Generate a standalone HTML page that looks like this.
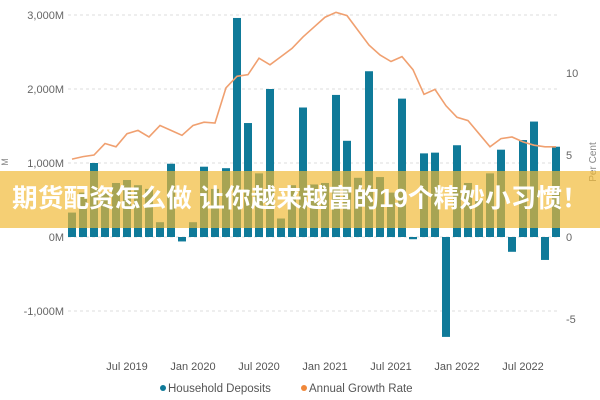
<!DOCTYPE html>
<html><head><meta charset="utf-8"><style>
body{margin:0;width:600px;height:400px;overflow:hidden;background:#fff;font-family:"Liberation Sans","Noto Sans CJK SC",sans-serif}
svg{position:absolute;left:0;top:0}
#banner{position:absolute;left:0;top:171px;width:600px;height:57px;background:rgba(240,184,50,0.68);color:#fff;font-weight:bold;font-size:25.5px;line-height:57px;text-align:center;letter-spacing:0.2px;white-space:nowrap;font-family:"Liberation Sans","Noto Sans CJK SC",sans-serif}
</style></head><body>
<svg id="chart" width="600" height="400"></svg>
<div id="banner">期货配资怎么做 让你越来越富的19个精妙小习惯！</div>
<script>
const months=["Feb 2019","Mar 2019","Apr 2019","May 2019","Jun 2019","Jul 2019","Aug 2019","Sep 2019","Oct 2019","Nov 2019","Dec 2019","Jan 2020","Feb 2020","Mar 2020","Apr 2020","May 2020","Jun 2020","Jul 2020","Aug 2020","Sep 2020","Oct 2020","Nov 2020","Dec 2020","Jan 2021","Feb 2021","Mar 2021","Apr 2021","May 2021","Jun 2021","Jul 2021","Aug 2021","Sep 2021","Oct 2021","Nov 2021","Dec 2021","Jan 2022","Feb 2022","Mar 2022","Apr 2022","May 2022","Jun 2022","Jul 2022","Aug 2022","Sep 2022","Oct 2022"];
const deposits=[330,600,1000,600,730,770,700,650,200,990,-60,200,950,650,930,2960,1540,860,2000,250,700,1750,710,730,1920,1300,800,2240,810,600,1870,-30,1130,1140,-1350,1240,730,500,860,1180,-200,1310,1560,-310,1220];
const growth=[4.75,4.9,5.0,5.7,5.5,6.3,6.5,6.1,6.8,6.5,6.2,6.8,7.0,6.95,9.1,9.8,9.9,10.9,10.5,11.0,11.5,12.2,12.8,13.4,13.7,13.5,12.6,11.7,11.1,10.7,11.0,10.2,8.7,9.0,8.0,7.3,7.1,6.3,5.5,6.0,6.1,5.8,5.6,5.5,5.5];
const leftTicks=[3000,2000,1000,0,-1000];
const leftTickLabels=["3,000M","2,000M","1,000M","0M","-1,000M"];
const rightTicks=[10,5,0,-5];
const xTickLabels=["Jul 2019","Jan 2020","Jul 2020","Jan 2021","Jul 2021","Jan 2022","Jul 2022"];
const xTickIdx=[5,11,17,23,29,35,41];

const NS="http://www.w3.org/2000/svg";
const svg=document.getElementById('chart');
const yL=v=>237-v*0.074;
const yR=v=>237-v*16.4;
const xB=i=>72+i*11;
function mk(t,a,p){const e=document.createElementNS(NS,t);for(const k in a)e.setAttribute(k,a[k]);(p||svg).appendChild(e);return e;}
leftTicks.forEach((v,i)=>{
  const g=mk('line',{x1:68,x2:560,y1:yL(v),y2:yL(v),stroke:'#ddd','stroke-dasharray':'3,3'});
  
  
  const t=mk('text',{x:64,y:yL(v)+4,'text-anchor':'end','font-size':11,fill:'#666'});
  t.textContent=leftTickLabels[i];
  
  
});
rightTicks.forEach(v=>{
  const t=mk('text',{x:566,y:yR(v)+4,'text-anchor':'start','font-size':11,fill:'#666'});
  t.textContent=String(v);
  
  
});
const rt=mk('text',{x:0,y:0,'font-size':10,fill:'#888',transform:'translate(596,162) rotate(-90)','text-anchor':'middle'});
rt.textContent='Per Cent';


const lt=mk('text',{x:0,y:0,'font-size':9,fill:'#888',transform:'translate(8,162) rotate(-90)','text-anchor':'middle'});
lt.textContent='M';


deposits.forEach((v,i)=>{
  const y0=yL(0),y1=yL(v);
  const r=mk('rect',{x:xB(i)-4,y:Math.min(y0,y1),width:8,height:Math.max(1,Math.abs(y1-y0)),fill:'#0f7a99'});
  
  
});
const pl=mk('polyline',{points:growth.map((v,i)=>xB(i)+','+yR(v)).join(' '),fill:'none',stroke:'#f0a070','stroke-width':1.6});


xTickLabels.forEach((l,i)=>{
  const t=mk('text',{x:xB(xTickIdx[i]),y:370,'text-anchor':'middle','font-size':11,fill:'#555'});
  t.textContent=l;
  
  
});
const c1=mk('circle',{cx:163,cy:388,r:3,fill:'#0f7a99'});


const t1=mk('text',{x:168,y:392,'font-size':11.5,fill:'#555'});t1.textContent='Household Deposits';


const c2=mk('circle',{cx:304,cy:388,r:3,fill:'#f0883a'});


const t2=mk('text',{x:309,y:392,'font-size':11.5,fill:'#555'});t2.textContent='Annual Growth Rate';


</script>
</body></html>
